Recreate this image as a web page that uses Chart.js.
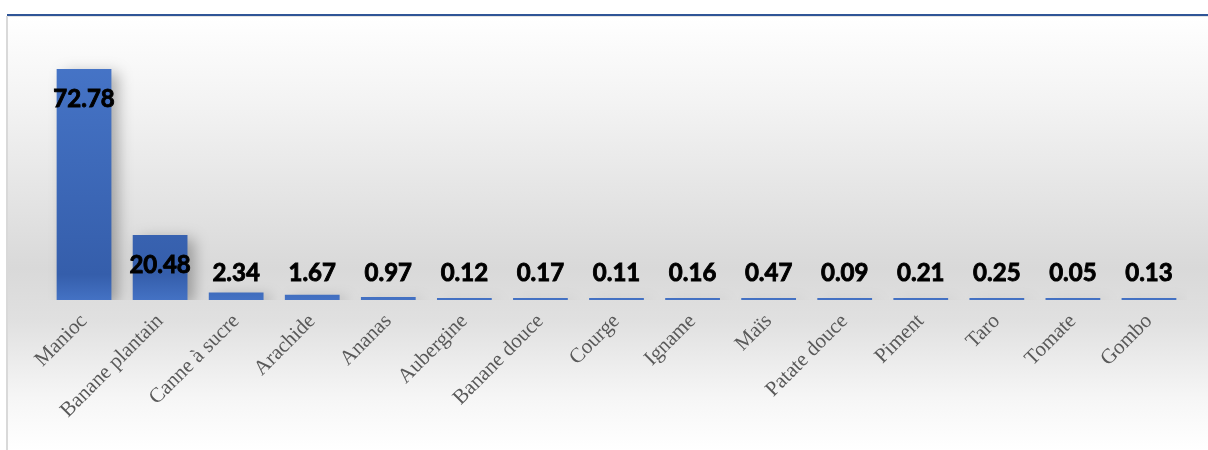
<!DOCTYPE html>
<html>
<head>
<meta charset="utf-8">
<script src="https://cdn.jsdelivr.net/npm/chart.js@4/dist/chart.umd.min.js"></script>
<style>
  html, body { margin: 0; padding: 0; background: #fff; }
  canvas { display: block; }
</style>
</head>
<body>
<canvas id="myChart" width="1208" height="450"></canvas>
<script>
// Cultures et valeurs
var cultures = ['Manioc', 'Banane plantain', 'Canne à sucre', 'Arachide', 'Ananas', 'Aubergine',
  'Banane douce', 'Courge', 'Igname', 'Maïs', 'Patate douce', 'Piment', 'Taro', 'Tomate', 'Gombo'];
var valeurs = [72.78, 20.48, 2.34, 1.67, 0.97, 0.12, 0.17, 0.11, 0.16, 0.47, 0.09, 0.21, 0.25, 0.05, 0.13];

// fond dégradé + cadre
var fondPlugin = {
    id: 'fond',
    beforeDraw: function (chart) {
        var ctx = chart.ctx;
        var w = chart.width, h = chart.height;
        ctx.save();
        var g = ctx.createLinearGradient(0, 16, 0, h);
        g.addColorStop(0, '#ffffff');
        g.addColorStop(0.2, '#f3f3f3');
        g.addColorStop(0.58, '#d9d9d9');
        g.addColorStop(0.7, '#e0e0e0');
        g.addColorStop(0.88, '#f6f6f6');
        g.addColorStop(1, '#ffffff');
        ctx.fillStyle = g;
        ctx.fillRect(7, 16, w - 7, h - 16);
        ctx.fillStyle = '#d9d9d9';
        ctx.fillRect(6, 16, 2, h - 16);
        ctx.fillStyle = '#e4e4e4';
        ctx.fillRect(7, 16, w - 7, 1);
        ctx.fillStyle = '#2f5597';
        ctx.fillRect(7, 14, w - 7, 2);
        ctx.restore();
    }
};

// ombre des barres
var ombrePlugin = {
    id: 'ombre',
    beforeDatasetDraw: function (chart) {
        var ctx = chart.ctx;
        ctx.save();
        ctx.shadowColor = 'rgba(0,0,0,0.3)';
        ctx.shadowBlur = 14;
        ctx.shadowOffsetX = 7;
        ctx.shadowOffsetY = 4;
    },
    afterDatasetDraw: function (chart) {
        chart.ctx.restore();
    }
};

// étiquettes de valeurs
var etiquettesPlugin = {
    id: 'etiquettes',
    afterDatasetsDraw: function (chart) {
        var ctx = chart.ctx;
        var meta = chart.getDatasetMeta(0);
        ctx.save();
        ctx.font = 'bold 24px Lato, "Open Sans", sans-serif';
        ctx.fillStyle = '#000';
        ctx.strokeStyle = '#000';
        ctx.lineWidth = 0.9;
        ctx.textAlign = 'center';
        ctx.textBaseline = 'middle';
        meta.data.forEach(function (bar, i) {
            var y = Math.min(bar.y + 30, bar.base - 27);
            var txt = valeurs[i].toFixed(2);
            ctx.fillText(txt, bar.x, y);
            ctx.strokeText(txt, bar.x, y);
        });
        ctx.restore();
    }
};

var ctx = document.getElementById('myChart').getContext('2d');

new Chart(ctx, {
    type: 'bar',
    data: {
        labels: cultures,
        datasets: [{
            data: valeurs,
            backgroundColor: function (c) {
                var area = c.chart.chartArea;
                if (!area) return '#4472c4';
                var g = c.chart.ctx.createLinearGradient(0, area.top, 0, area.bottom);
                g.addColorStop(0, '#4776c9');
                g.addColorStop(0.9, '#355eab');
                g.addColorStop(1, '#4472c4');
                return g;
            },
            borderWidth: 0,
            minBarLength: 2,
            categoryPercentage: 1,
            barPercentage: 0.72
        }]
    },
    options: {
        responsive: false,
        animation: false,
        layout: { padding: { left: 46, right: 21, top: 46, bottom: 0 } },
        plugins: {
            legend: { display: false },
            tooltip: { enabled: false }
        },
        scales: {
            x: {
                grid: { display: false, drawTicks: false },
                border: { display: false },
                ticks: {
                    minRotation: 45,
                    maxRotation: 45,
                    padding: 9,
                    color: '#595959',
                    font: { family: '"Liberation Serif", "DejaVu Serif", serif', size: 21 }
                },
                afterFit: function (scale) { scale.height = 150; }
            },
            y: {
                display: false,
                min: 0,
                max: 80
            }
        }
    },
    plugins: [fondPlugin, ombrePlugin, etiquettesPlugin]
});
</script>
</body>
</html>
